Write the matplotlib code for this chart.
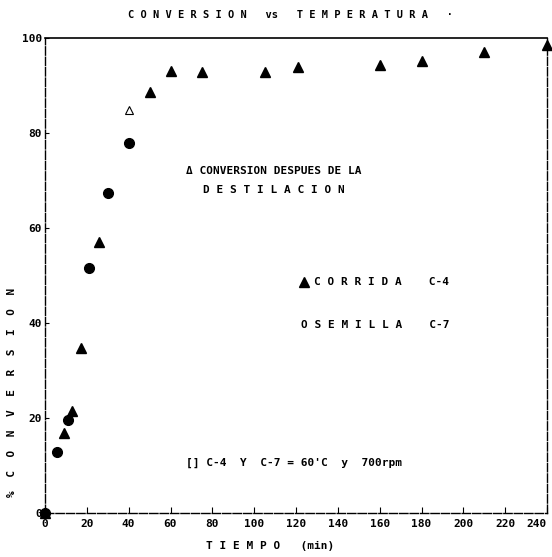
import matplotlib
matplotlib.use("Agg")
import matplotlib.pyplot as plt

# C-4 (CORRIDA) filled triangles
c4_t = [0, 9, 13, 17, 26, 50, 60, 75, 105, 121, 160, 180, 210, 240]
c4_y = [0, 16.8, 21.5, 34.7, 57.1, 88.6, 93.1, 92.8, 92.8, 93.9, 94.3, 95.2, 97.1, 98.5]
# C-7 (SEMILLA) circles
c7_t = [0, 5.5, 11, 21, 30, 40]
c7_y = [0, 12.8, 19.6, 51.6, 67.4, 77.9]
# conversion after distillation (open triangle)
dest_t = [40]
dest_y = [84.8]

xticks = [0, 20, 40, 60, 80, 100, 120, 140, 160, 180, 200, 220, 240]
yticks = [0, 20, 40, 60, 80, 100]

plt.rcParams['font.family'] = ['DejaVu Sans Mono']
plt.rcParams['font.weight'] = 'bold'

fig = plt.figure(figsize=(5.52, 5.57), dpi=100)
ax = fig.add_axes([45/552, 1-513/557, (547-45)/552, (513-38)/557])
ax.set_xlim(0, 240)
ax.set_ylim(0, 100)

ax.plot(c4_t, c4_y, linestyle='none', marker='^', color='black', markersize=7, clip_on=False)
ax.plot(c7_t, c7_y, linestyle='none', marker='o', color='black', markersize=7, clip_on=False)
ax.plot(dest_t, dest_y, linestyle='none', marker='^', markerfacecolor='white',
        markeredgecolor='black', markersize=6, markeredgewidth=0.8)

ax.set_xticks(xticks)
ax.set_xticklabels([str(v) for v in xticks], fontsize=8)
ax.set_yticks(yticks)
ax.set_yticklabels([str(v) for v in yticks], fontsize=8)
ax.tick_params(axis='x', direction='in', length=4, width=0.8, pad=4)
ax.tick_params(axis='y', direction='in', length=3, width=0.8, pad=2)
ax.get_xticklabels()[-1].set_horizontalalignment('right')

for side in ['left', 'right', 'bottom']:
    ax.spines[side].set_linestyle((0, (6, 1.5)))
    ax.spines[side].set_linewidth(1.0)
ax.spines['top'].set_linewidth(1.2)

fig.text(290/552, 1-15/557, "C O N V E R S I O N   vs   T E M P E R A T U R A   ·",
         ha='center', va='center', fontsize=7.5)
fig.text(270/552, 1-546/557, "T I E M P O   (min)", ha='center', va='center', fontsize=8)
fig.text(12/552, 1-392/557, "%  C  O  N  V  E  R  S  I  O  N", rotation=90,
         ha='center', va='center', fontsize=8)

ax.text(67.5, 72, "\u0394 CONVERSION DESPUES DE LA", fontsize=8, va='center')
ax.text(75.5, 68, "D E S T I L A C I O N", fontsize=8, va='center')
ax.plot([123.6], [48.6], linestyle='none', marker='^', color='black', markersize=7)
ax.text(128.5, 48.6, "C O R R I D A    C-4", fontsize=8, va='center')
ax.text(122.5, 39.6, "O S E M I L L A    C-7", fontsize=8, va='center')
ax.text(67.5, 10.5, "[] C-4  Y  C-7 = 60'C  y  700rpm", fontsize=8, va='center')

fig.savefig("out.png", dpi=100, facecolor='white')
